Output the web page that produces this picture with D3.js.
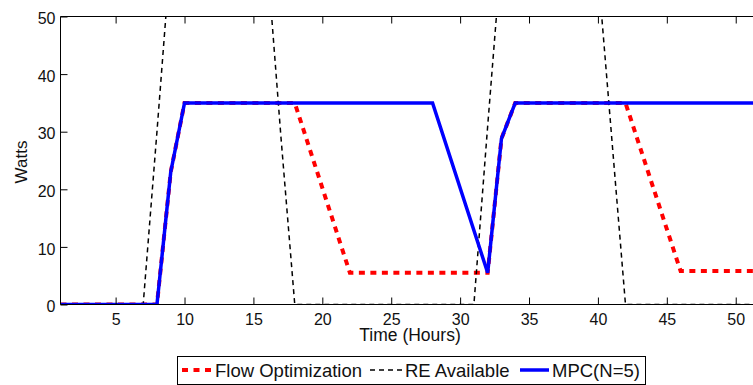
<!DOCTYPE html>
<html>
<head>
<meta charset="utf-8">
<script src="https://cdn.jsdelivr.net/npm/d3@7"></script>
<style>
  html, body { margin: 0; padding: 0; background: #fff; }
  svg { display: block; font-family: "Liberation Sans", Arial, Helvetica, sans-serif; }
</style>
</head>
<body>
<svg id="chart" width="753" height="385"></svg>
<script>
// Power delivered over time (hours), vertices of each profile
const flowHours  = [1, 8, 9, 10, 18, 22, 32, 33, 34, 42, 46, 52];
const flowWatts  = [0, 0, 23, 35, 35, 5.5, 5.5, 28.8, 35, 35, 5.8, 5.8];

const reHours = [1, 2, 3, 4, 5, 6, 7, 8, 9, 10, 11, 12, 13, 14, 15, 16, 17, 18, 19, 20, 21, 22, 23, 24, 25, 26,
                 27, 28, 29, 30, 31, 32, 33, 34, 35, 36, 37, 38, 39, 40, 41, 42, 43, 44, 45, 46, 47, 48, 49, 50, 51, 52];
const reWatts = [0, 0, 0, 0, 0, 0, 0, 30, 61, 85, 104, 115, 118, 110, 90, 60, 29, 0, 0, 0, 0, 0, 0, 0, 0, 0,
                 0, 0, 0, 0, 0, 31, 61, 86, 103, 114, 116, 108, 88, 58, 29, 0, 0, 0, 0, 0, 0, 0, 0, 0, 0, 0];

const mpcHours = [1, 8, 9, 10, 28, 32, 33, 34, 52];
const mpcWatts = [0, 0, 23, 35, 35, 5.5, 28.8, 35, 35];

const xTicks = [5, 10, 15, 20, 25, 30, 35, 40, 45, 50];
const yTicks = [0, 10, 20, 30, 40, 50];

const legendLabels = ["Flow Optimization", "RE Available", "MPC(N=5)"];

const svg = d3.select("#chart");

const plotLeft = 60.5, plotTop = 16.5, plotBottom = 304.5;
const pxPerHour = 13.78;
const x = d3.scaleLinear().domain([1, 52]).range([plotLeft, plotLeft + 51 * pxPerHour]);
const y = d3.scaleLinear().domain([0, 50]).range([plotBottom, plotTop]);
const plotRight = x(52);

svg.append("defs").append("clipPath").attr("id", "plotClip")
  .append("rect").attr("x", plotLeft).attr("y", plotTop)
  .attr("width", plotRight - plotLeft).attr("height", plotBottom - plotTop);

const zip = (hs, vs) => hs.map((h, i) => [h, vs[i]]);
const line = d3.line().x(d => x(d[0])).y(d => y(d[1]));

const plot = svg.append("g").attr("clip-path", "url(#plotClip)");

const series = [
  { data: zip(flowHours, flowWatts), color: "#ff0000", width: 4, dash: "6,5.5" },
  { data: zip(reHours, reWatts), color: "#000000", width: 1.5, dash: "5,4" },
  { data: zip(mpcHours, mpcWatts), color: "#0000ff", width: 3.5, dash: null }
];

series.forEach(s => {
  plot.append("path")
    .datum(s.data)
    .attr("d", line)
    .attr("fill", "none")
    .attr("stroke", s.color)
    .attr("stroke-width", s.width)
    .attr("stroke-dasharray", s.dash)
    .attr("stroke-linejoin", "miter");
});

// Axes (box with inward ticks)
const tickLen = 7;
const xAxisBottom = d3.axisBottom(x).tickValues(xTicks).tickSize(-tickLen).tickPadding(9);
const gx = svg.append("g").attr("transform", `translate(0,${plotBottom})`).call(xAxisBottom);
gx.select(".domain").remove();
gx.selectAll("line").attr("stroke", "#000");
gx.selectAll("text").attr("font-size", 16).attr("fill", "#111")
  .attr("font-family", "Liberation Sans, Arial, sans-serif");

const xAxisTop = d3.axisTop(x).tickValues(xTicks).tickSize(-tickLen).tickFormat("");
const gxt = svg.append("g").attr("transform", `translate(0,${plotTop})`).call(xAxisTop);
gxt.select(".domain").remove();
gxt.selectAll("line").attr("stroke", "#000");

const yAxis = d3.axisLeft(y).tickValues(yTicks).tickSize(-tickLen).tickPadding(5);
const gy = svg.append("g").attr("transform", `translate(${plotLeft},0)`).call(yAxis);
gy.select(".domain").remove();
gy.selectAll("line").attr("stroke", "#000");
gy.selectAll("text").attr("font-size", 16).attr("fill", "#111").attr("dy", "0.45em")
  .attr("font-family", "Liberation Sans, Arial, sans-serif");

// Box outline (right side falls outside the view)
svg.append("path")
  .attr("d", `M${plotRight},${plotTop}H${plotLeft}V${plotBottom}H${plotRight}`)
  .attr("fill", "none").attr("stroke", "#000").attr("stroke-width", 1);

// Axis titles
svg.append("text")
  .attr("x", 410).attr("y", 341)
  .attr("text-anchor", "middle").attr("font-size", 17.5).attr("fill", "#111")
  .text("Time (Hours)");

svg.append("text")
  .attr("transform", "translate(27,162) rotate(-90)")
  .attr("text-anchor", "middle").attr("font-size", 17).attr("fill", "#111")
  .text("Watts");

// Legend
const legend = svg.append("g");
legend.append("rect")
  .attr("x", 177.5).attr("y", 356.5).attr("width", 468).attr("height", 28)
  .attr("fill", "#fff").attr("stroke", "#000").attr("stroke-width", 1);

const legendItems = [
  { label: legendLabels[0], s: series[0], x0: 182, x1: 212, textX: 215 },
  { label: legendLabels[1], s: series[1], x0: 370, x1: 403, textX: 405 },
  { label: legendLabels[2], s: series[2], x0: 520, x1: 549, textX: 552 }
];
legendItems.forEach(it => {
  legend.append("line")
    .attr("x1", it.x0).attr("x2", it.x1).attr("y1", 370).attr("y2", 370)
    .attr("stroke", it.s.color).attr("stroke-width", it.s.width)
    .attr("stroke-dasharray", it.s.dash);
  legend.append("text")
    .attr("x", it.textX).attr("y", 376.5)
    .attr("font-size", 18.5).attr("fill", "#111")
    .text(it.label);
});
</script>
</body>
</html>
